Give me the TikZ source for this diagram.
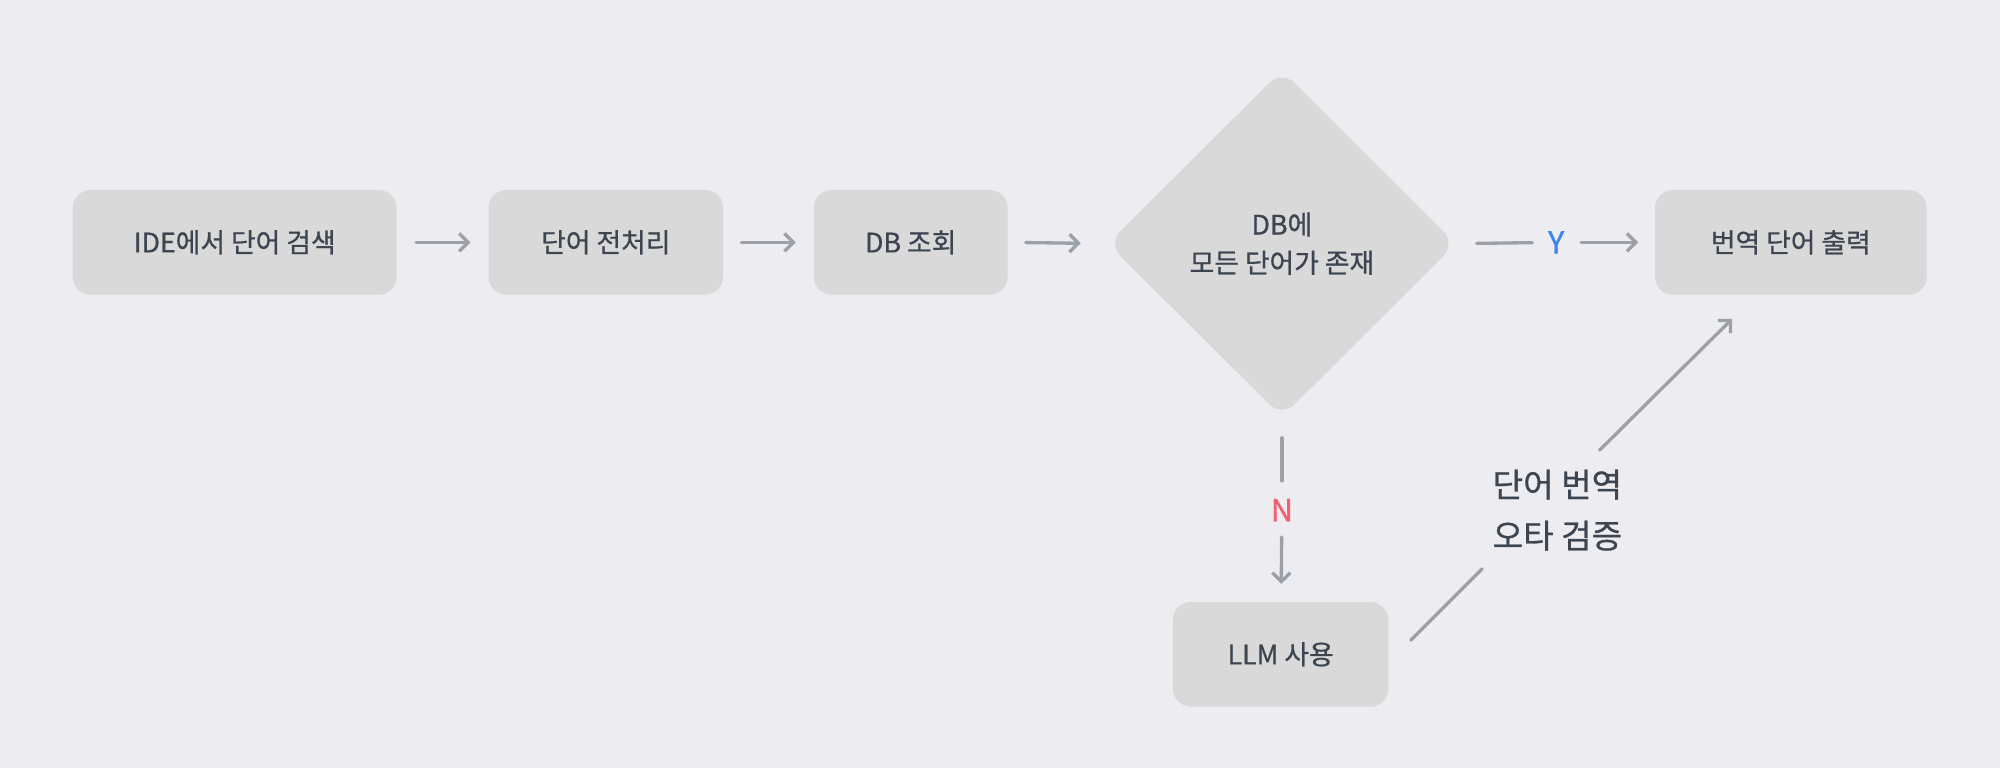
\documentclass[tikz,border=0pt]{standalone}
\usepackage{fontspec}
\setmainfont{Noto Sans CJK KR}[FakeBold=0.8]
\usetikzlibrary{arrows.meta,shapes.geometric}
\definecolor{bg}{HTML}{EDEDF1}
\definecolor{boxc}{HTML}{D9D9DA}
\definecolor{txt}{HTML}{3D4550}
\definecolor{lnc}{HTML}{9CA0A8}
\definecolor{ycol}{HTML}{3B82F6}
\definecolor{ncol}{HTML}{F0606E}
\tikzset{
 box/.style={fill=boxc,rounded corners=14pt,minimum height=82pt,text=txt,font=\fontsize{21}{26}\selectfont,inner sep=0pt},
 ln/.style={draw=lnc,line width=2.6pt,line cap=round},
 arr/.style={ln,-{Straight Barb[length=7pt,width=14pt,line width=2.6pt]}},
}
\begin{document}
\begin{tikzpicture}[x=1pt,y=-1pt]
\fill[bg] (0,0) rectangle (1568,602);
\useasboundingbox (0,0) rectangle (1568,602);
\node[box,minimum width=254pt] (A) at (184,190) {IDE에서 단어 검색};
\node[box,minimum width=184pt] (B) at (475,190) {단어 전처리};
\node[box,minimum width=152pt] (C) at (714,190) {DB 조회};
\node[diamond,fill=boxc,rounded corners=14pt,minimum width=273pt,minimum height=272pt,inner sep=0pt,text=txt,font=\fontsize{21}{30}\selectfont,align=center] (D) at (1005,191) {DB에\\모든 단어가 존재};
\node[box,minimum width=213pt] (E) at (1404,190) {번역 단어 출력};
\node[box,minimum width=169pt] (F) at (1004,513) {LLM 사용};
\node[text=ycol,font=\fontsize{24}{28}\selectfont,inner sep=0pt] (Y) at (1220,190) {Y};
\node[text=ncol,font=\fontsize{24}{28}\selectfont,inner sep=0pt] (N) at (1005,400) {N};
\node[text=txt,font=\fontsize{26}{40}\selectfont,align=center,inner sep=0pt] (L) at (1221,400) {단어 번역\\오타 검증};
\draw[arr,shorten <=15pt,shorten >=14pt] (A) -- (B);
\draw[arr,shorten <=14pt,shorten >=14pt] (B) -- (C);
\draw[arr,shorten <=14pt,shorten >=21pt] (C.east) -- (D.west);
\draw[ln,shorten <=16pt,shorten >=12pt] (D.east) -- (Y);
\draw[arr,shorten <=13pt,shorten >=13pt] (Y) -- (E);
\draw[ln,shorten <=16pt,shorten >=14pt] (D.south) -- (N);
\draw[arr,shorten <=12pt,shorten >=14pt] (N) -- (F);
\coordinate (f1) at (1106,502);
\coordinate (f2) at (1162,446);
\coordinate (f3) at (1254,353);
\coordinate (f4) at (1358,250);
\draw[ln] (f1) -- (f2);
\draw[arr] (f3) -- (f4);
\end{tikzpicture}
\end{document}
